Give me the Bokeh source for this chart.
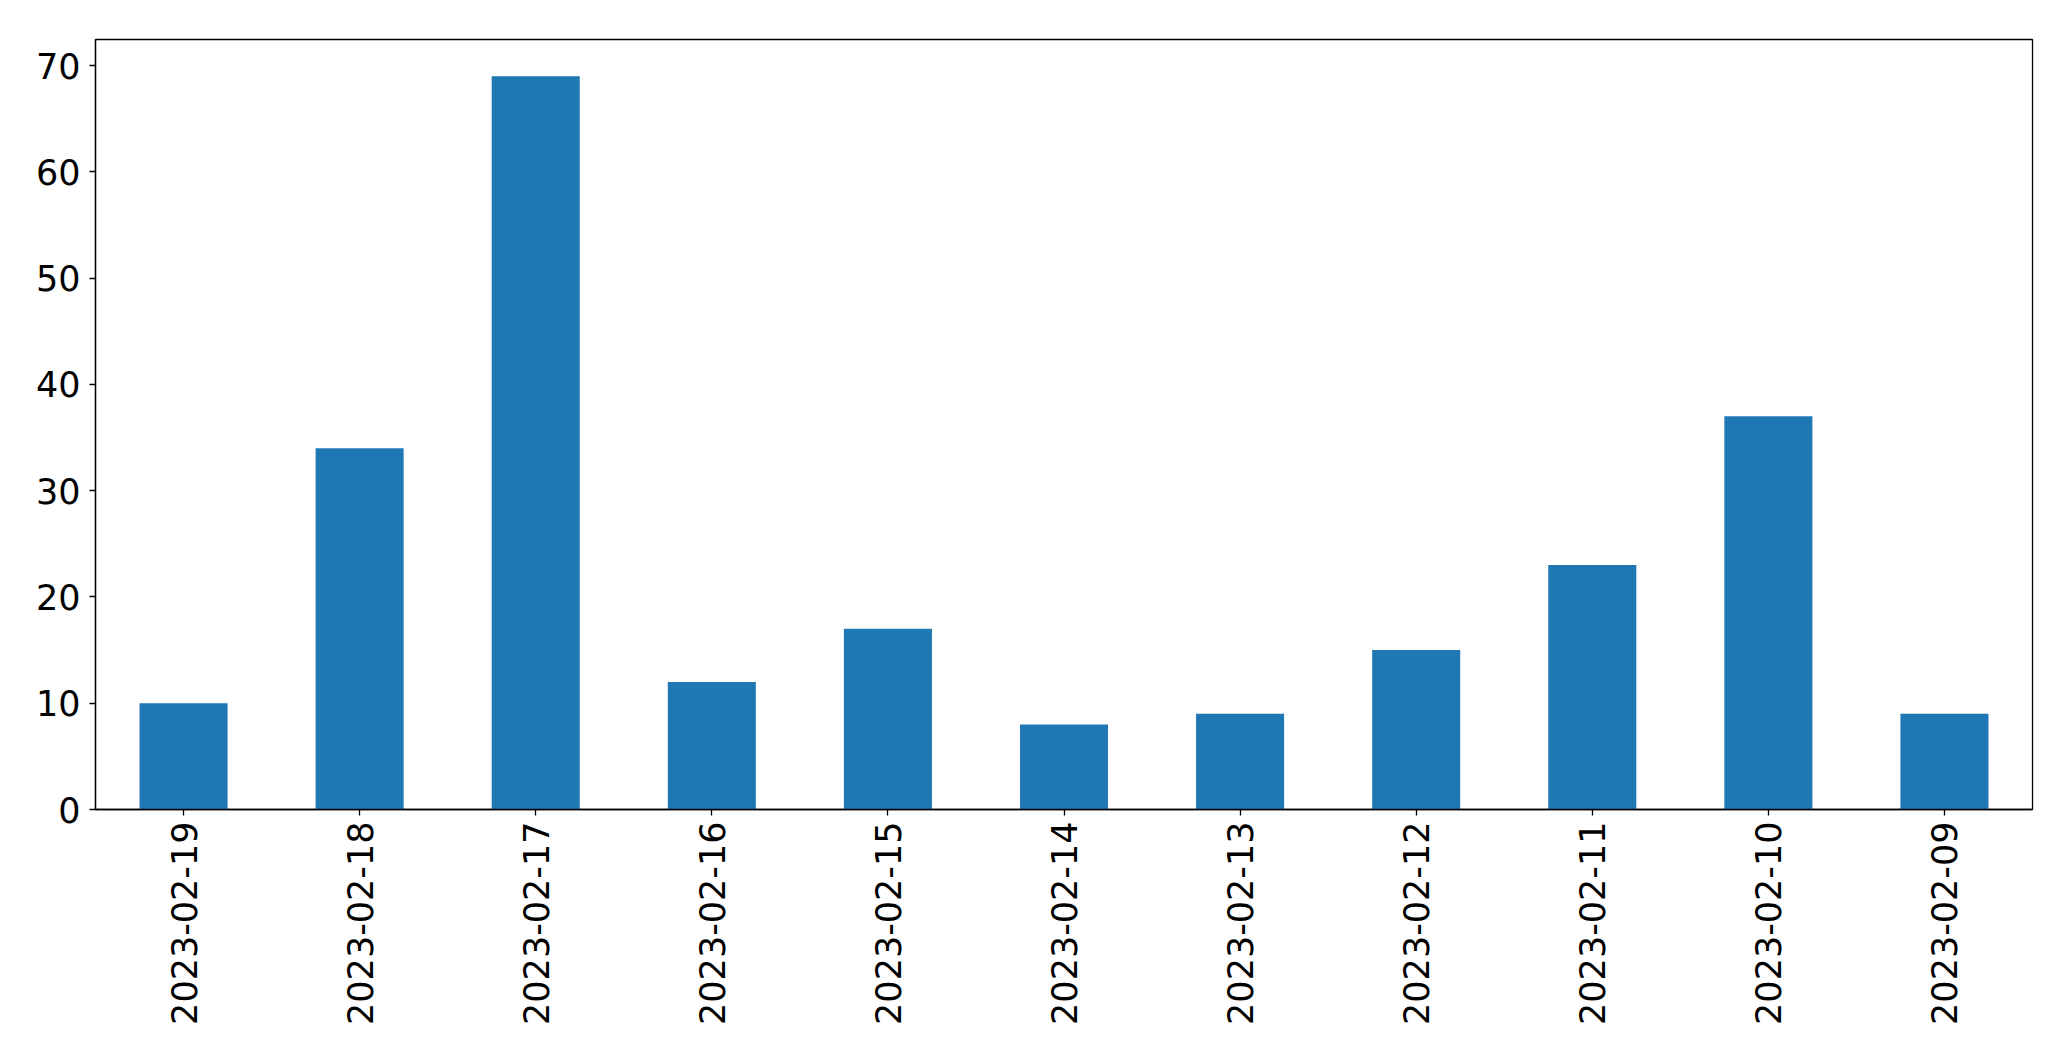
import math
from bokeh.plotting import figure
from bokeh.models import Range1d, FactorRange, FixedTicker, ColumnDataSource
from bokeh.embed import file_html
from bokeh.resources import INLINE

dates = ["2023-02-19", "2023-02-18", "2023-02-17", "2023-02-16", "2023-02-15",
         "2023-02-14", "2023-02-13", "2023-02-12", "2023-02-11", "2023-02-10",
         "2023-02-09"]
counts = [10, 34, 69, 12, 17, 8, 9, 15, 23, 37, 9]
y_ticks = [0, 10, 20, 30, 40, 50, 60, 70]

src = ColumnDataSource(dict(x=dates, top=counts))

p = figure(width=2055, height=1045, output_backend="svg", toolbar_location=None,
           x_range=FactorRange(factors=dates, range_padding=0),
           y_range=Range1d(0, max(counts) * 1.05))
p.min_border_left = 95
p.min_border_top = 39
p.min_border_right = 23
p.min_border_bottom = 236

p.vbar(x="x", top="top", width=0.5, source=src, fill_color="#1f77b4", line_color=None)

p.xgrid.visible = False
p.ygrid.visible = False
p.outline_line_color = "black"
p.outline_line_width = 1.3
p.outline_line_alpha = 1.0

for ax in (p.xaxis[0], p.yaxis[0]):
    ax.axis_line_color = "black"
    ax.axis_line_width = 1.3
    ax.major_tick_line_color = "black"
    ax.major_tick_line_width = 1.3
    ax.major_tick_out = 6
    ax.major_tick_in = 0
    ax.minor_tick_line_color = None
    ax.major_label_text_font = "DejaVu Sans"
    ax.major_label_text_font_size = "35px"
    ax.major_label_text_color = "black"

p.yaxis[0].ticker = FixedTicker(ticks=y_ticks)
p.yaxis[0].major_label_standoff = 9
p.xaxis[0].major_label_orientation = math.pi / 2
p.xaxis[0].major_label_standoff = 6
p.xaxis[0].group_text_font_size = "0px"

open("out.html", "w").write(file_html(p, INLINE))
